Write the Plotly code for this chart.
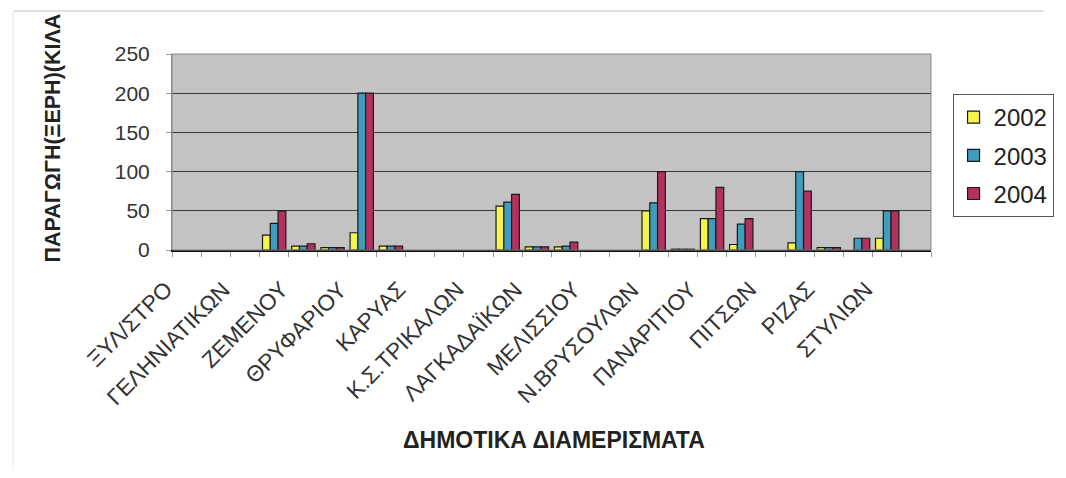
import plotly.graph_objects as go

# category index (26 municipal districts; only every second one is labelled)
cat_index = list(range(26))
label_index = [0, 2, 4, 6, 8, 10, 12, 14, 16, 18, 20, 22, 24]
labels = ["ΞΥΛ/ΣΤΡΟ", "ΓΕΛΗΝΙΑΤΙΚΩΝ", "ΖΕΜΕΝΟΥ", "ΘΡΥΦΑΡΙΟΥ", "ΚΑΡΥΑΣ",
          "Κ.Σ.ΤΡΙΚΑΛΩΝ", "ΛΑΓΚΑΔΑΪΚΩΝ", "ΜΕΛΙΣΣΙΟΥ", "Ν.ΒΡΥΣΟΥΛΩΝ",
          "ΠΑΝΑΡΙΤΙΟΥ", "ΠΙΤΣΩΝ", "ΡΙΖΑΣ", "ΣΤΥΛΙΩΝ"]

v2002 = [0, 0, 0, 19, 5, 3, 22, 5, 0, 0, 0, 56, 4, 4, 0, 0, 50, 1, 40, 7, 0, 9, 3, 0, 15, 0]
v2003 = [0, 0, 0, 34, 5, 3, 200, 5, 0, 0, 0, 61, 4, 5, 0, 0, 60, 1, 40, 33, 0, 100, 3, 15, 50, 0]
v2004 = [0, 0, 0, 50, 8, 3, 200, 5, 0, 0, 0, 71, 4, 10, 0, 0, 100, 1, 80, 40, 0, 75, 3, 15, 50, 0]

series = [("2002", v2002, "#F4F44C"), ("2003", v2003, "#3E9CBC"), ("2004", v2004, "#B3315F")]

FONT = "Liberation Sans, Arial, sans-serif"

fig = go.Figure()
for name, vals, col in series:
    fig.add_trace(go.Bar(
        x=cat_index, y=[v if v != 0 else None for v in vals], name=name, legendgroup=name,
        marker=dict(color=col, line=dict(color="#1a1a1a", width=1.2)),
    ))

# page pixel geometry (page body has an 8px margin)
OFF = 8
W, H = 1066 - OFF, 478 - OFF
L, R, T, B = 172, 947, 54, 250
pw, ph = R - L, B - T

fig.update_layout(
    width=W, height=H,
    margin=dict(l=L - OFF, r=1066 - R, t=T - OFF, b=478 - B, pad=0),
    paper_bgcolor="white",
    plot_bgcolor="#C3C3C3",
    barmode="group", bargap=0.2, bargroupgap=0,
    font=dict(family=FONT, color="#222"),
    showlegend=True,
    legend=dict(
        x=(969 - L) / pw, xanchor="left",
        y=(B - 94) / ph, yanchor="top",
        bgcolor="white", bordercolor="#555", borderwidth=1,
        font=dict(size=24, color="#222"),
        tracegroupgap=4,
        itemwidth=30,
    ),
    xaxis=dict(
        range=[-0.5, 25.5],
        tickmode="array", tickvals=label_index, ticktext=[""] * len(label_index),
        ticks="", showgrid=False, zeroline=False,
        showline=True, linecolor="#111", linewidth=1.5,
        minor=dict(ticks="outside", tick0=-0.5, dtick=1, ticklen=5,
                   tickcolor="#999", showgrid=False),
    ),
    yaxis=dict(
        range=[0, 250], dtick=50, tickfont=dict(size=21, color="#333"),
        ticks="outside", ticklen=5, tickcolor="#999",
        showgrid=True, gridcolor="#3a3a3a", gridwidth=1,
        zeroline=False, showline=True, linecolor="#888", linewidth=1,
        ticklabelstandoff=12,
    ),
)

# category labels (rotated, Excel-style placement)
for idx, lab in zip(label_index, labels):
    fig.add_annotation(
        text=lab, x=idx, xref="x", y=0, yref="paper",
        xanchor="right", yanchor="top", textangle=-45,
        xshift=-7, yshift=-24, showarrow=False,
        font=dict(size=22.5, color="#333", family=FONT),
    )

# plot area border (top/right)
fig.add_shape(type="rect", xref="paper", yref="paper", x0=0, y0=0, x1=1, y1=1,
              line=dict(color="#888", width=1), fillcolor="rgba(0,0,0,0)", layer="above")
# faint chart-area frame
fig.add_shape(type="line", xref="paper", yref="paper",
              x0=(10 - L) / pw, x1=(1062 - L) / pw, y0=(B - 11) / ph, y1=(B - 11) / ph,
              line=dict(color="#d6d6d6", width=1.5))
fig.add_shape(type="line", xref="paper", yref="paper",
              x0=(10 - L) / pw, x1=(10 - L) / pw, y0=(B - 11) / ph, y1=(B - 470) / ph,
              line=dict(color="#eeeeee", width=1.5))

fig.add_annotation(
    text="<b>ΠΑΡΑΓΩΓΗ(ΞΕΡΗ)(ΚΙΛΑ</b>", textangle=-90,
    xref="paper", yref="paper", x=(51 - L) / pw, y=(B - 138) / ph,
    xanchor="center", yanchor="middle", showarrow=False,
    font=dict(size=21.5, color="#222", family=FONT),
)
fig.add_annotation(
    text="<b>ΔΗΜΟΤΙΚΑ ΔΙΑΜΕΡΙΣΜΑΤΑ</b>",
    xref="paper", yref="paper", x=(562 - L) / pw, y=(B - 440) / ph,
    xanchor="center", yanchor="middle", showarrow=False,
    font=dict(size=23, color="#222", family=FONT),
)

fig.write_html("out.html")
